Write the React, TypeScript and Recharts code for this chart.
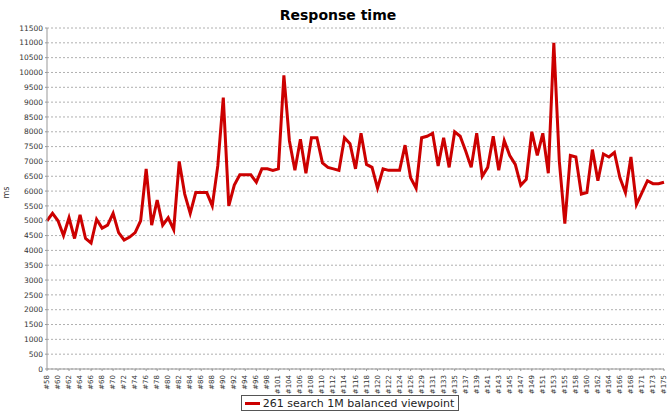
import React from "react"
import { LineChart, Line, XAxis, YAxis, CartesianGrid, Legend } from "recharts"

const categories = [
  "#58", "#59", "#60", "#61", "#62", "#63", "#64", "#65", "#66", "#67",
  "#68", "#69", "#70", "#71", "#72", "#73", "#74", "#75", "#76", "#77",
  "#78", "#79", "#80", "#81", "#82", "#83", "#84", "#85", "#86", "#87",
  "#88", "#89", "#90", "#91", "#92", "#93", "#94", "#95", "#96", "#97",
  "#98", "#100", "#101", "#103", "#104", "#105", "#106", "#107", "#108", "#109",
  "#110", "#111", "#112", "#113", "#114", "#115", "#116", "#117", "#118", "#119",
  "#120", "#121", "#122", "#123", "#124", "#125", "#126", "#128", "#129", "#130",
  "#131", "#132", "#133", "#134", "#135", "#136", "#137", "#138", "#139", "#140",
  "#141", "#142", "#143", "#144", "#145", "#146", "#147", "#148", "#149", "#150",
  "#151", "#152", "#153", "#154", "#155", "#157", "#158", "#159", "#160", "#161",
  "#162", "#163", "#164", "#165", "#166", "#167", "#168", "#170", "#171", "#172",
  "#173", "#174", "#175",
]

const responseMs = [
  5000, 5250, 5000, 4500, 5100, 4400, 5200, 4400, 4250, 5050,
  4750, 4850, 5250, 4600, 4350, 4450, 4600, 5000, 6750, 4850,
  5700, 4850, 5100, 4700, 7000, 5900, 5250, 5950, 5950, 5950,
  5500, 6850, 9150, 5500, 6200, 6550, 6550, 6550, 6300, 6750,
  6750, 6700, 6750, 9900, 7700, 6700, 7750, 6600, 7800, 7800,
  6950, 6800, 6750, 6700, 7800, 7600, 6750, 7950, 6900, 6800,
  6100, 6750, 6700, 6700, 6700, 7550, 6450, 6100, 7800, 7850,
  7950, 6850, 7800, 6800, 8000, 7850, 7350, 6800, 7950, 6500,
  6800, 7850, 6700, 7700, 7200, 6900, 6200, 6400, 8000, 7200,
  7950, 6600, 11000, 7000, 4900, 7200, 7150, 5900, 5950, 7400,
  6350, 7250, 7150, 7300, 6450, 5950, 7150, 5550, 5950, 6350,
  6250, 6250, 6300,
]

const yTicks = [
  0, 500, 1000, 1500, 2000, 2500, 3000, 3500, 4000, 4500, 5000, 5500,
  6000, 6500, 7000, 7500, 8000, 8500, 9000, 9500, 10000, 10500, 11000, 11500,
]

const seriesName = "261 search 1M balanced viewpoint"

const data = categories.map((c, i) => ({ sample: c, ms: responseMs[i] }))

const FONT = "'DejaVu Sans', sans-serif"

function XTick(props: any) {
  const { x, y, payload } = props
  return (
    <text
      x={x}
      y={y + 2}
      transform={`rotate(-90 ${x} ${y + 2})`}
      textAnchor="end"
      dominantBaseline="central"
      fontSize={7}
      fontFamily={FONT}
      fill="#333"
    >
      {payload.value}
    </text>
  )
}

function LegendBox() {
  return (
    <div style={{ height: 20, display: "flex", justifyContent: "center", alignItems: "center", paddingLeft: 36 }}>
      <div
        style={{
          border: "1px solid #555",
          height: 14,
          padding: "0 4px 0 3px",
          display: "flex",
          alignItems: "center",
          fontFamily: FONT,
          fontSize: 11,
          color: "#222",
          background: "#fff",
        }}
      >
        <span style={{ display: "inline-block", width: 15, height: 3, background: "#cc0000", marginRight: 3 }} />
        {seriesName}
      </div>
    </div>
  )
}

export default function App() {
  return (
    <div style={{ position: "absolute", left: 0, top: 0, width: 669, height: 413, background: "#fff" }}>
      <div
        style={{
          position: "absolute",
          left: 0,
          top: 7,
          width: 676,
          textAlign: "center",
          fontFamily: FONT,
          fontWeight: "bold",
          fontSize: 14,
          color: "#000",
        }}
      >
        Response time
      </div>
      <LineChart width={669} height={413} data={data} margin={{ top: 28, right: 5, bottom: 0, left: 0 }}>
        <CartesianGrid vertical={false} strokeDasharray="2 2" stroke="#b0b0b0" />
        <XAxis
          dataKey="sample"
          interval={1}
          height={24}
          tick={<XTick />}
          tickSize={2}
          axisLine={{ stroke: "#999" }}
          tickLine={{ stroke: "#999" }}
        />
        <YAxis
          width={47}
          domain={[0, 11500]}
          ticks={yTicks}
          interval={0}
          tickSize={2}
          axisLine={{ stroke: "#999" }}
          tickLine={{ stroke: "#999" }}
          tick={{ fontSize: 7.5, fontFamily: FONT, fill: "#333" }}
          label={{ value: "ms", angle: -90, position: "insideLeft", offset: 6, fontSize: 8, fontFamily: FONT, fill: "#333" }}
        />
        <Legend verticalAlign="bottom" content={<LegendBox />} />
        <Line
          dataKey="ms"
          name={seriesName}
          type="linear"
          stroke="#cc0000"
          strokeWidth={3}
          dot={false}
          isAnimationActive={false}
        />
      </LineChart>
    </div>
  )
}
